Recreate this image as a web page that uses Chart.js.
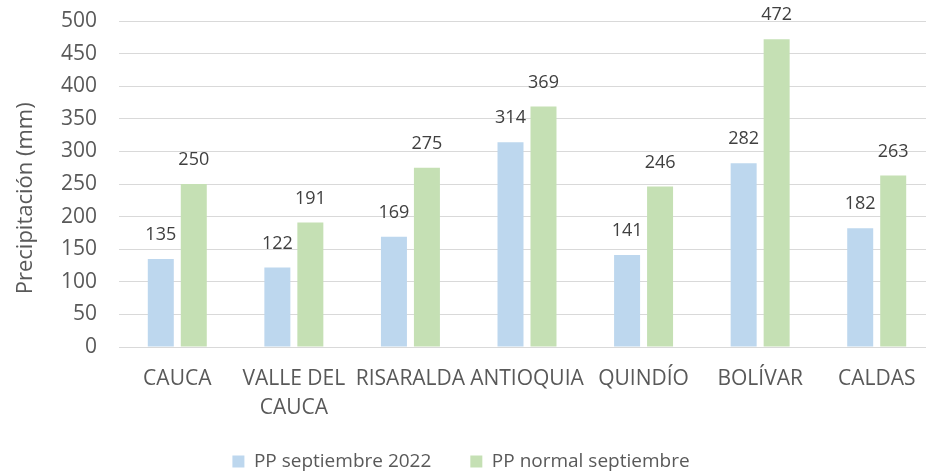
<!DOCTYPE html>
<html>
<head>
<meta charset="utf-8">
<script src="https://cdn.jsdelivr.net/npm/chart.js@4"></script>
<style>
  html, body { margin: 0; padding: 0; background: #ffffff; overflow: hidden; }
  #wrap { width: 926px; height: 472px; overflow: hidden; position: relative; }
  canvas { display: block; }
</style>
</head>
<body>
<div id="wrap"><canvas id="c" width="935" height="472"></canvas></div>
<script>
const categories = ['CAUCA', ['VALLE DEL', 'CAUCA'], 'RISARALDA', 'ANTIOQUIA', 'QUINDÍO', 'BOLÍVAR', 'CALDAS'];
const ppSep2022 = [135, 122, 169, 314, 141, 282, 182];
const ppNormalSep = [250, 191, 275, 369, 246, 472, 263];
const seriesNames = ['PP septiembre 2022', 'PP normal septiembre'];
const yMin = 0, yMax = 500, yStep = 50;
const yTitle = 'Precipitación (mm)';

const FONT = '"Open Sans", "Noto Sans", sans-serif';
const TXT = '#595959';

const valueLabels = {
  id: 'valueLabels',
  afterDatasetsDraw(chart) {
    const ctx = chart.ctx;
    ctx.save();
    ctx.font = '18px ' + FONT;
    ctx.fillStyle = '#404040';
    ctx.textAlign = 'center';
    ctx.textBaseline = 'middle';
    chart.data.datasets.forEach((ds, i) => {
      const meta = chart.getDatasetMeta(i);
      meta.data.forEach((el, j) => {
        ctx.fillText(String(ds.data[j]), el.x, el.y - 24);
      });
    });
    ctx.restore();
  }
};

// let the wrapped category label extend below the x-axis box without being clipped
const labelRoom = {
  id: 'labelRoom',
  afterLayout(chart) { chart.scales.x.bottom = chart.height; }
};

new Chart(document.getElementById('c'), {
  type: 'bar',
  data: {
    labels: categories,
    datasets: [
      { label: seriesNames[0], data: ppSep2022, backgroundColor: '#BDD7EE', categoryPercentage: 0.566, barPercentage: 0.788 },
      { label: seriesNames[1], data: ppNormalSep, backgroundColor: '#C5E0B4', categoryPercentage: 0.566, barPercentage: 0.788 }
    ]
  },
  options: {
    responsive: false,
    animation: false,
    layout: { padding: { left: -13, right: 0, top: 21, bottom: -9 } },
    plugins: {
      legend: {
        position: 'bottom',
        labels: {
          color: TXT,
          font: { family: FONT, size: 19 },
          boxWidth: 12,
          boxHeight: 12,
          padding: 39
        }
      },
      tooltip: { enabled: false }
    },
    scales: {
      x: {
        grid: { display: false },
        border: { display: false },
        ticks: {
          color: TXT,
          font: { family: FONT, size: 21, lineHeight: 1.4 },
          padding: 9,
          autoSkip: false,
          maxRotation: 0,
          minRotation: 0
        },
        afterFit(scale) { scale.height = 66; }
      },
      y: {
        min: yMin,
        max: yMax,
        border: { display: false },
        grid: { color: '#D9D9D9', lineWidth: 1, drawTicks: false },
        ticks: {
          stepSize: yStep,
          color: TXT,
          font: { family: FONT, size: 21 },
          padding: 22
        },
        title: {
          display: true,
          text: yTitle + '\u00A0\u00A0\u00A0\u00A0\u00A0',
          color: TXT,
          font: { family: FONT, size: 22 },
          padding: { top: 26, bottom: 0 }
        },
        afterFit(scale) {
          scale.width = 132;
          scale.paddingTop = 0;
          scale.paddingBottom = 0;
        }
      }
    }
  },
  plugins: [valueLabels, labelRoom]
});
</script>
</body>
</html>
